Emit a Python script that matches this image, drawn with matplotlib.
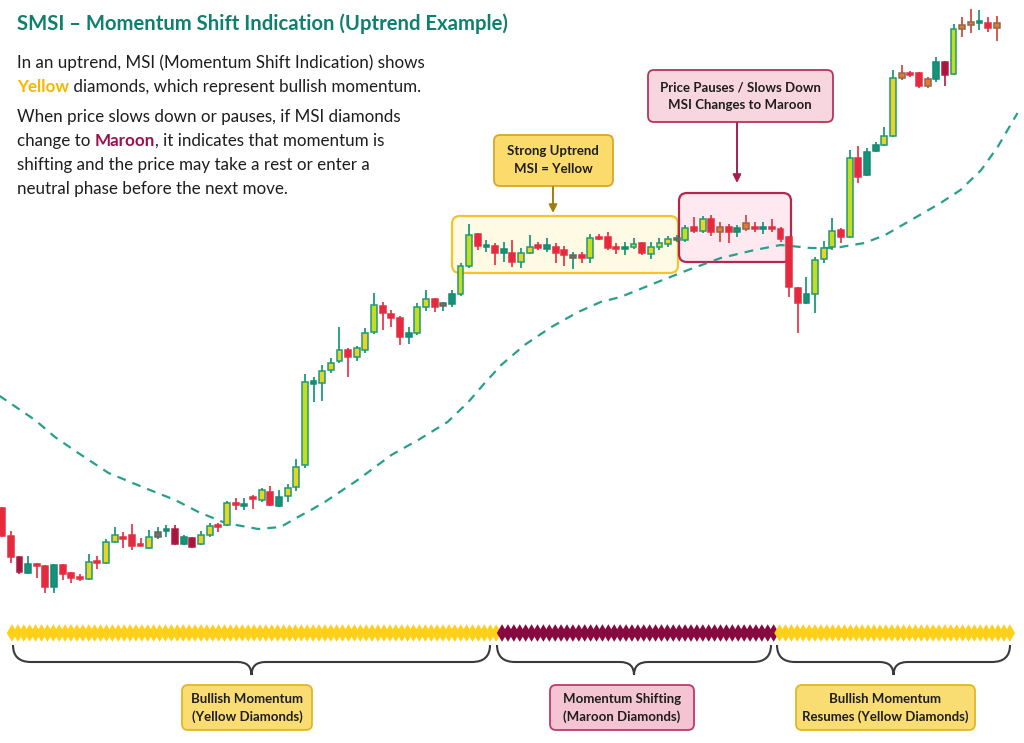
import numpy as np
import matplotlib
matplotlib.use("Agg")
import matplotlib.pyplot as plt
from matplotlib.patches import FancyBboxPatch, PathPatch
from matplotlib.path import Path

plt.rcParams['font.family'] = ['Lato', 'DejaVu Sans']

# candle data (arbitrary price units), one entry per bar
opens = [235, 207, 186, 170, 179, 177, 156, 178, 170, 166,
         164, 182, 180, 201, 206, 208, 198, 195, 206, 212,
         214, 199, 205, 199, 208, 218, 218, 240, 237, 246,
         243, 251, 237, 247, 256, 278, 359, 360, 373, 382,
         393, 386, 393, 411, 437, 429, 425, 406, 410, 436,
         444, 437, 439, 449, 477, 509, 496, 497, 490, 490,
         481, 490, 498, 494, 496, 493, 485, 488, 485, 506,
         506, 496, 494, 496, 500, 489, 496, 499, 503, 503,
         516, 512, 524, 511, 516, 511, 514, 516, 514, 516,
         514, 506, 455, 440, 449, 484, 496, 513, 506, 585,
         568, 592, 598, 607, 665, 670, 670, 657, 664, 681,
         669, 714, 718, 720, 720, 715]
closes = [207, 186, 171, 179, 177, 156, 178, 169, 165, 164,
          181, 180, 201, 208, 204, 197, 197, 206, 211, 214,
          199, 206, 196, 208, 217, 216, 240, 238, 239, 244,
          253, 238, 246, 255, 276, 361, 362, 372, 380, 393,
          386, 395, 410, 438, 430, 425, 406, 410, 436, 444,
          436, 440, 449, 477, 508, 497, 498, 490, 494, 481,
          490, 496, 495, 498, 490, 488, 488, 485, 505, 504,
          495, 494, 496, 499, 490, 496, 500, 504, 505, 515,
          512, 524, 511, 516, 511, 515, 520, 514, 516, 514,
          504, 456, 440, 449, 483, 495, 512, 506, 585, 566,
          591, 598, 607, 665, 670, 668, 657, 664, 681, 668,
          714, 718, 721, 721, 715, 720]
highs = [236, 212, 187, 187, 180, 178, 179, 179, 171, 169,
         189, 187, 204, 216, 211, 219, 205, 213, 216, 218,
         218, 208, 206, 212, 220, 220, 242, 245, 245, 248,
         255, 257, 253, 259, 284, 369, 366, 378, 385, 416,
         395, 397, 415, 450, 441, 433, 427, 416, 440, 453,
         445, 441, 453, 480, 519, 510, 503, 500, 501, 503,
         495, 508, 501, 505, 500, 497, 491, 491, 509, 509,
         511, 500, 501, 505, 501, 501, 505, 507, 508, 518,
         526, 527, 528, 521, 519, 518, 528, 521, 521, 524,
         516, 507, 456, 466, 486, 502, 525, 515, 593, 597,
         595, 601, 616, 673, 678, 672, 671, 666, 686, 682,
         719, 726, 734, 733, 726, 727]
lows = [206, 180, 169, 169, 165, 150, 150, 163, 160, 162,
        163, 174, 179, 200, 195, 193, 197, 194, 204, 206,
        198, 198, 195, 198, 206, 211, 217, 233, 233, 234,
        241, 237, 236, 241, 252, 275, 341, 342, 370, 380,
        366, 382, 390, 409, 413, 416, 398, 399, 408, 432,
        431, 432, 436, 447, 475, 493, 491, 478, 481, 476,
        475, 489, 493, 491, 480, 477, 474, 480, 480, 503,
        493, 489, 488, 494, 488, 484, 493, 496, 501, 501,
        510, 510, 507, 501, 500, 506, 512, 511, 509, 511,
        501, 446, 410, 439, 430, 480, 493, 500, 505, 560,
        567, 591, 597, 606, 663, 666, 655, 655, 661, 657,
        668, 706, 710, 713, 711, 702]
# body colour class per bar
kinds = ("rrmtrrtrrr" "yryyrrrykt" "mtmyyryrtr" "yrtyygtyyy" "ryygrrrtgy"
         "rktggrtrtr" "yyrtrrkrgr" "rrtyryyykg" "ryrortortr" "rrrtgygrgr"
         "ttyyorrotm" "gootro")

# moving average (dashed) read at bar positions
ma_x = [-0.46, 3.8, 6.1, 8.8, 12.3, 16.5, 20.0, 22.7, 25.8, 29.6, 32.2, 34.0,
        35.7, 37.3, 41.1, 45.0, 48.1, 51.5, 53.9, 55.8, 57.7, 60.4, 63.5, 66.6,
        69.2, 71.5, 75.5, 79.3, 83.1, 87.0, 90.0, 93.5, 96.3, 99.7, 102.1,
        105.1, 108.5, 110.8, 113.2, 115.1, 117.4]
ma_y = [348, 323, 306, 290, 270, 255, 243, 231, 220, 214, 216, 225, 233, 241,
        263, 288, 303, 321, 341, 360, 378, 398, 416, 431, 441, 446, 460, 473,
        485, 493, 498, 495, 495, 500, 508, 523, 540, 553, 573, 596, 630]

# MSI diamond row: (state, count)
msi_states = ['yellow', 'maroon', 'yellow']
msi_counts = [83, 47, 40]

face = {'r': '#E8283C', 'm': '#A8143F', 't': '#14937A', 'y': '#E8D424',
        'g': '#C6DC1E', 'o': '#E8782E', 'k': '#7A6E5E'}
edge = {'r': '#E23044', 'm': '#B01E44', 't': '#138A72', 'y': '#1F9A78',
        'g': '#1F9A78', 'o': '#8A6A50', 'k': '#5E6A64'}
wick = {'r': '#E83A4C', 'm': '#C02848', 't': '#1A9A80', 'y': '#1A9A80',
        'g': '#1A9A80', 'o': '#D84A40', 'k': '#1A9A80'}
msi_color = {'yellow': '#FFD01A', 'maroon': '#86093F'}

fig = plt.figure(figsize=(10.24, 7.43), dpi=100)
fig.patch.set_facecolor('white')

# background layer (pixel coordinates)
bg = fig.add_axes([0, 0, 1, 1], zorder=0)
bg.set_xlim(0, 1024)
bg.set_ylim(743, 0)
bg.axis('off')

# candle layer
ax = fig.add_axes([0, 0, 1, 1], zorder=1)
ax.set_facecolor('none')
ax.set_xlim(-0.25, 118.15)
ax.set_ylim(0, 743)
ax.axis('off')

# foreground layer for text/arrows
fg = fig.add_axes([0, 0, 1, 1], zorder=3)
fg.set_facecolor('none')
fg.set_xlim(0, 1024)
fg.set_ylim(743, 0)
fg.axis('off')

# diamond strip
dax = fig.add_axes([0, 0, 1, 1], zorder=2)
dax.set_facecolor('none')
n_dia = sum(msi_counts)
dax.set_xlim(-2.03, n_dia - 1 + 2.4)
dax.set_ylim(743, 0)
dax.axis('off')


def rbox(a, x0, y0, x1, y1, fc, ec, lw=1.5, pad=8):
    p = FancyBboxPatch((x0, y0), x1 - x0, y1 - y0,
                       boxstyle=f"round,pad=0,rounding_size={pad}",
                       fc=fc, ec=ec, lw=lw)
    a.add_patch(p)


# highlight regions
rbox(bg, 452, 216, 678, 273, '#FFFAE3', '#F3C52C', lw=1.6)
rbox(bg, 679, 193, 791, 262, '#FDE9EF', '#B3284F', lw=1.6)

# moving average
ax.plot(ma_x, ma_y, color='#26A08C', lw=1.6, ls=(0, (4, 3.2)), zorder=1)

# candles
idx = np.arange(len(opens))
for i in idx:
    k = kinds[i]
    o, c, h, l = opens[i], closes[i], highs[i], lows[i]
    ax.vlines(i, l, h, color=wick[k], lw=1.3, zorder=2)
    lo, hi = min(o, c), max(o, c)
    if hi - lo < 2:
        hi = lo + 2
    ax.bar(i, hi - lo, bottom=lo, width=0.68, color=face[k],
           edgecolor=edge[k], lw=1.1, zorder=3)

# MSI diamonds
cols = []
for s, n in zip(msi_states, msi_counts):
    cols += [msi_color[s]] * n
dax.scatter(np.arange(n_dia), [633] * n_dia, marker='d', s=80,
            c=cols, edgecolors='none')


def brace(a, x0, x1, y0=645, y1=662, y2=675, color='#3A3A3A'):
    xc = (x0 + x1) / 2
    verts = [(x0, y0), (x0, y1), (x0 + 18, y1),
             (xc - 14, y1), (xc, y1), (xc, y2),
             (xc, y1), (xc + 14, y1),
             (x1 - 18, y1), (x1, y1), (x1, y0)]
    codes = [Path.MOVETO, Path.CURVE3, Path.CURVE3,
             Path.LINETO, Path.CURVE3, Path.CURVE3,
             Path.CURVE3, Path.CURVE3,
             Path.LINETO, Path.CURVE3, Path.CURVE3]
    a.add_patch(PathPatch(Path(verts, codes), fc='none', ec=color, lw=1.5))


brace(fg, 13, 490)
brace(fg, 497, 771)
brace(fg, 777, 1010)

# bottom labels
lab_kw = dict(ha='center', va='center', fontsize=9.5, color='#1E1E1E',
              weight='bold', linespacing=1.55)
rbox(fg, 182, 685, 312, 730, '#FADD72', '#E2B52A', lw=1.3, pad=6)
fg.text(247, 708, 'Bullish Momentum\n(Yellow Diamonds)', **lab_kw)
rbox(fg, 550, 685, 694, 730, '#F4C4D2', '#C0396A', lw=1.3, pad=6)
fg.text(622, 708, 'Momentum Shifting\n(Maroon Diamonds)', **lab_kw)
rbox(fg, 796, 685, 975, 730, '#FADD72', '#E2B52A', lw=1.3, pad=6)
fg.text(885, 708, 'Bullish Momentum\nResumes (Yellow Diamonds)', **lab_kw)

# top callouts
rbox(fg, 494, 135, 613, 186, '#FADB6C', '#D8A62A', lw=1.3, pad=6)
fg.text(553, 160, 'Strong Uptrend\nMSI = Yellow', **lab_kw)
fg.annotate('', xy=(553, 213), xytext=(553, 187),
            arrowprops=dict(arrowstyle='-|>', color='#A27C12', lw=1.4,
                            mutation_scale=12, shrinkA=0, shrinkB=0))
rbox(fg, 648, 70, 833, 122, '#F8D6E0', '#B8345A', lw=1.3, pad=6)
fg.text(740, 96, 'Price Pauses / Slows Down\nMSI Changes to Maroon', **lab_kw)
fg.annotate('', xy=(737, 183), xytext=(737, 123),
            arrowprops=dict(arrowstyle='-|>', color='#A61E4D', lw=1.4,
                            mutation_scale=12, shrinkA=0, shrinkB=0))

# title and explanation
fg.text(17, 24, 'SMSI – Momentum Shift Indication (Uptrend Example)',
        fontsize=14.6, weight='bold', color='#0F8070', va='center')

fig.canvas.draw()
renderer = fig.canvas.get_renderer()


def rich_line(y, parts, size=12.25):
    x = 17
    for txt, color, wt in parts:
        t = fg.text(x, y, txt, fontsize=size, color=color, weight=wt,
                    va='center', ha='left')
        w = t.get_window_extent(renderer).width
        x += w


black = '#1E1E1E'
rich_line(63, [('In an uptrend, MSI (Momentum Shift Indication) shows', black, 'normal')])
rich_line(87, [('Yellow', '#F5B700', 'bold'),
               ('\u00a0diamonds, which represent bullish momentum.', black, 'normal')])
rich_line(117, [('When price slows down or pauses, if MSI diamonds', black, 'normal')])
rich_line(141, [('change to\u00a0', black, 'normal'), ('Maroon', '#9A1050', 'bold'),
                (', it indicates that momentum is', black, 'normal')])
rich_line(165, [('shifting and the price may take a rest or enter a', black, 'normal')])
rich_line(189, [('neutral phase before the next move.', black, 'normal')])

fig.savefig('out.png', dpi=100, facecolor='white')
